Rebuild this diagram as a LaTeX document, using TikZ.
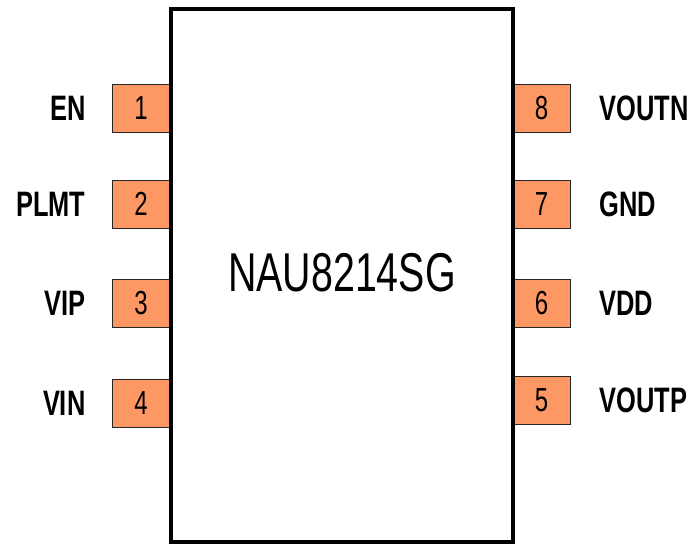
\documentclass[tikz,border=0pt]{standalone}
\usepackage{fontspec}
\setmainfont{Liberation Sans}[FakeStretch=0.72]
\usetikzlibrary{positioning}

\definecolor{pinorange}{RGB}{253,152,100}

\tikzset{
  chipbox/.style={draw=black, line width=3pt, minimum width=256pt, minimum height=400pt, inner sep=0pt},
  pinbox/.style={draw=black!85, line width=0.6pt, fill=pinorange, minimum width=42.75pt, minimum height=36pt, inner sep=0pt, font=\fontsize{25}{29}\selectfont},
  pinlabel/.style={inner sep=0pt, font=\fontsize{26.5}{30}\selectfont\bfseries}
}

\begin{document}
\begin{tikzpicture}[x=0.75pt, y=-0.75pt]
\useasboundingbox (0,0) rectangle (693,544);
% pins, left side
\node[pinbox] (p1) at (141,108) {1};
\node[pinbox] (p2) at (141,204) {2};
\node[pinbox] (p3) at (141,303) {3};
\node[pinbox] (p4) at (141,403) {4};
% pins, right side
\node[pinbox] (p8) at (541.5,108) {8};
\node[pinbox] (p7) at (541.5,204) {7};
\node[pinbox] (p6) at (541.5,303) {6};
\node[pinbox] (p5) at (541.5,400) {5};
% package body
\node[chipbox] (chip) at (342,275.7) {};
\node[font=\fontsize{41}{48}\selectfont] (title) at (342,272.5) {NAU8214SG};
% pin names
\node[pinlabel, left=19.8pt of p1] (en) {EN};
\node[pinlabel, left=19.8pt of p2] (plmt) {PLMT};
\node[pinlabel, left=19.8pt of p3] (vip) {VIP};
\node[pinlabel, left=19.8pt of p4] (vin) {VIN};
\node[pinlabel, right=21.5pt of p8] (voutn) {VOUTN};
\node[pinlabel, right=21.5pt of p7] (gnd) {GND};
\node[pinlabel, right=21.5pt of p6] (vdd) {VDD};
\node[pinlabel, right=21.5pt of p5] (voutp) {VOUTP};
\end{tikzpicture}
\end{document}
